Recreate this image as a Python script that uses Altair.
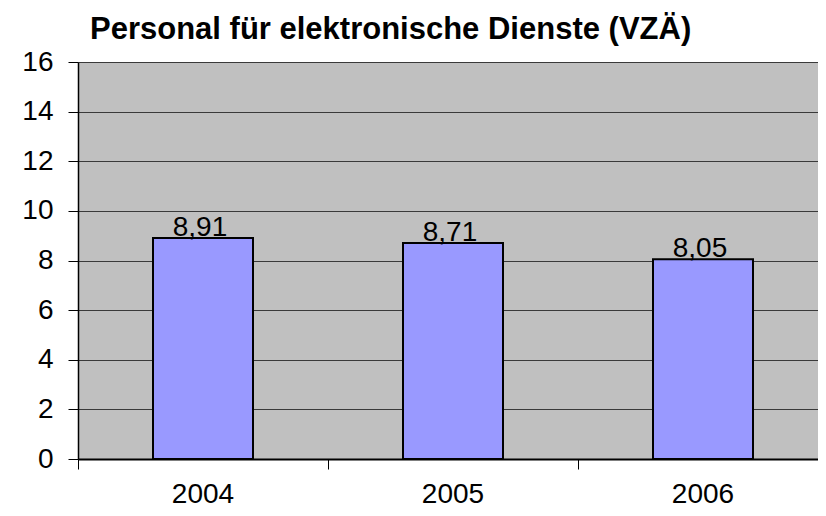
import altair as alt
import pandas as pd

years = ["2004", "2005", "2006"]
values = [8.91, 8.71, 8.05]
labels = [f"{v:.2f}".replace(".", ",") for v in values]
y_ticks = [0, 2, 4, 6, 8, 10, 12, 14, 16]

df = pd.DataFrame({"year": years, "value": values, "label": labels})

FONT = "Liberation Sans"

x_enc = alt.X(
    "year:N",
    sort=years,
    title=None,
    scale=alt.Scale(paddingInner=0, paddingOuter=0, range=[0, 750]),
    axis=alt.Axis(
        bandPosition=0,
        labelAngle=0,
        labelFont=FONT,
        labelFontSize=28,
        labelColor="black",
        labelBaseline="alphabetic",
        labelPadding=33,
        tickSize=10,
        tickColor="black",
        domainColor="black",
        domainWidth=2,
        grid=False,
    ),
)

y_enc = alt.Y(
    "value:Q",
    title=None,
    scale=alt.Scale(domain=[0, 16], nice=False),
    axis=alt.Axis(
        values=y_ticks,
        labelFont=FONT,
        labelFontSize=28,
        labelColor="black",
        labelPadding=15,
        tickSize=10,
        tickColor="black",
        domainColor="black",
        domainWidth=1.5,
        grid=True,
        gridColor="#3a3a3a",
        gridWidth=1,
    ),
)

bars = alt.Chart(df).mark_bar(
    width=alt.RelativeBandSize(0.4),
    color="#9999FF",
    stroke="black",
    strokeWidth=2,
).encode(x=x_enc, y=y_enc)

text = alt.Chart(df).mark_text(
    font=FONT,
    fontSize=28,
    color="black",
    baseline="alphabetic",
    dy=-2,
    dx=-3,
).encode(x=alt.X("year:N", sort=years), y="value:Q", text="label:N")

chart = (
    alt.layer(bars, text)
    .properties(
        width=740,
        height=397,
        padding={"left": 70, "top": 54, "right": 0, "bottom": 49},
        autosize=alt.AutoSizeParams(type="none"),
        title=alt.TitleParams(
            "Personal für elektronische Dienste (VZÄ)",
            font=FONT,
            fontSize=31,
            fontWeight="bold",
            color="black",
            anchor="start",
            frame="group",
            dx=12,
            offset=2,
        ),
    )
    .configure(background="white")
    .configure_view(fill="#C0C0C0", stroke=None)
)

chart.save("out.html", embed_options={"renderer": "svg", "actions": False})
